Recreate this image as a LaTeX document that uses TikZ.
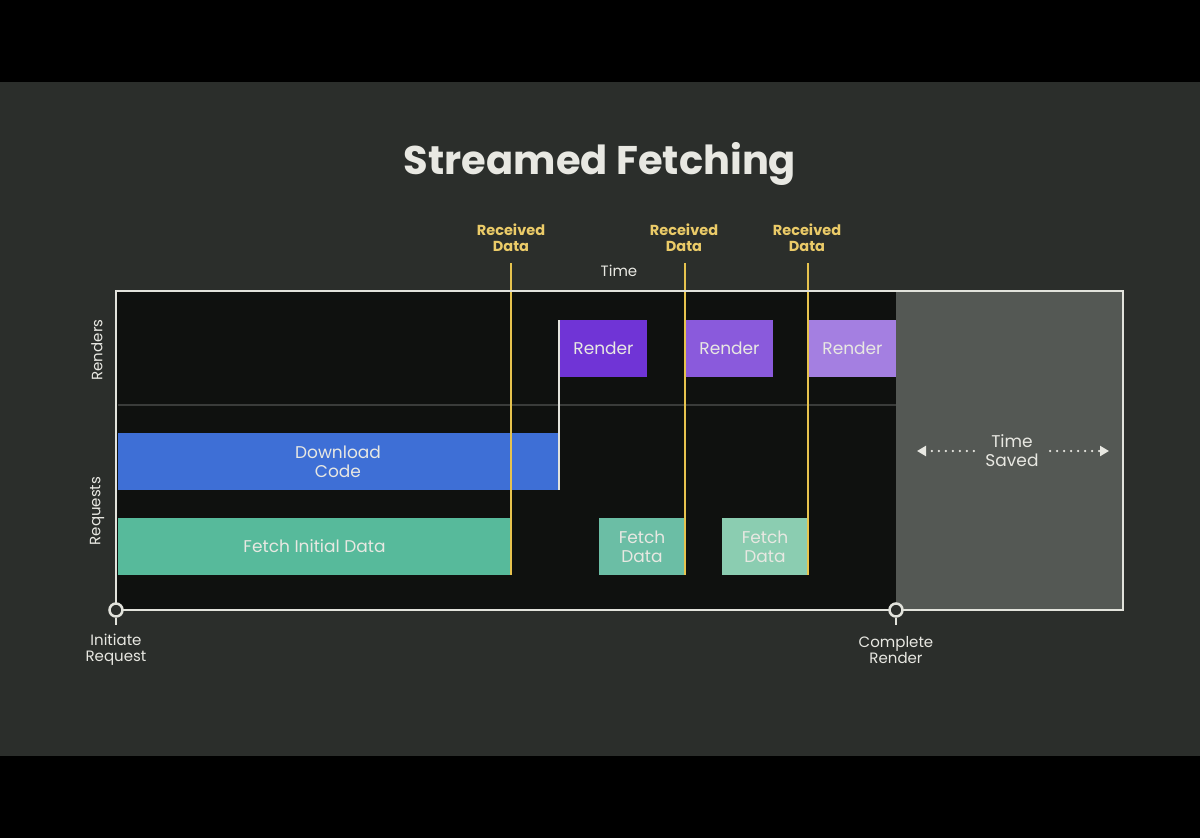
\documentclass[tikz,border=0pt]{standalone}
\usepackage{fontspec}
\setmainfont{Poppins}
\usetikzlibrary{arrows.meta}
\definecolor{bgc}{HTML}{2B2E2B}
\definecolor{plotc}{HTML}{0F110F}
\definecolor{savedc}{HTML}{545854}
\definecolor{framec}{HTML}{E2E3DC}
\definecolor{divc}{HTML}{3A3C3A}
\definecolor{yel}{HTML}{E6C34E}
\definecolor{ytext}{HTML}{EBCB68}
\definecolor{txt}{HTML}{E8E8E2}
\definecolor{blu}{HTML}{3E6FD6}
\definecolor{rendA}{HTML}{7034D6}
\definecolor{rendB}{HTML}{8A5ADC}
\definecolor{rendC}{HTML}{A47FE1}
\definecolor{fetA}{HTML}{57BA9B}
\definecolor{fetB}{HTML}{6BBEA5}
\definecolor{fetC}{HTML}{8BCDB1}
\tikzset{
  barbox/.style={anchor=north west, inner sep=0pt, outer sep=0pt, minimum height=57pt, align=center, text=txt, font=\fontsize{17}{19}\selectfont},
  ylabel/.style={text=ytext, align=center, font=\bfseries\fontsize{14.5}{16}\selectfont},
  axlabel/.style={text=txt, align=center, font=\fontsize{15}{16}\selectfont},
  yline/.style={draw=yel, line width=2.2pt},
  milestone/.style={circle, draw=framec, fill=bgc, line width=2.5pt, minimum size=13pt, inner sep=0pt},
  savedarrow/.style={txt, line width=2.5pt, line cap=round, dash pattern=on 0pt off 7pt, -{Triangle[length=9pt,width=10pt]}},
}
\begin{document}
\begin{tikzpicture}[x=1pt,y=-1pt]
\fill[black] (0,0) rectangle (1200,838);
\fill[bgc] (0,82) rectangle (1200,756);
\useasboundingbox (0,0) rectangle (1200,838);
% title
\node[text=txt, font=\bfseries\fontsize{40}{44}\selectfont] (title) at (600,164) {Streamed Fetching};
% plot areas
\fill[plotc] (116,291) rectangle (896,610);
\fill[savedc] (896,291) rectangle (1123,610);
\draw[divc, line width=2pt] (118,405) -- (896,405);
% bars
\node[barbox, fill=blu, minimum width=440pt] (dl) at (118,433) {Download\\Code};
\node[barbox, fill=fetA, minimum width=393pt] (fid) at (118,518) {Fetch Initial Data};
\node[barbox, fill=fetB, minimum width=86pt] (fd1) at (599,518) {Fetch\\Data};
\node[barbox, fill=fetC, minimum width=86pt] (fd2) at (722,518) {Fetch\\Data};
\node[barbox, fill=rendA, minimum width=87pt] (rd1) at (560,320) {Render};
\node[barbox, fill=rendB, minimum width=87pt] (rd2) at (686,320) {Render};
\node[barbox, fill=rendC, minimum width=87pt] (rd3) at (809,320) {Render};
% white start line for first render
\draw[framec, line width=2pt] ([xshift=-1pt]rd1.north west) -- ([xshift=1pt]dl.south east);
% received data lines
\coordinate (y1) at (511,263);
\coordinate (y2) at (685,263);
\coordinate (y3) at (808,263);
\draw[yline] (y1) -- (fid.south east);
\draw[yline] (y2) -- (fd1.south east);
\draw[yline] (y3) -- (fd2.south east);
\node[ylabel] (rl1) at (511,238) {Received\\Data};
\node[ylabel] (rl2) at (684,238) {Received\\Data};
\node[ylabel] (rl3) at (807,238) {Received\\Data};
\node[axlabel] (time) at (619,271) {Time};
% frame
\draw[framec, line width=2.5pt] (116,291) rectangle (1123,610);
% axis labels
\node[axlabel, rotate=90] (renders) at (97,350) {Renders};
\node[axlabel, rotate=90] (requests) at (97,511) {Requests};
% milestones
\node[milestone] (ini) at (116,610) {};
\node[milestone] (cmp) at (896,610) {};
\coordinate (initick) at (116,625);
\coordinate (cmptick) at (896,625);
\draw[framec, line width=2.5pt] (ini.south) -- (initick);
\draw[framec, line width=2.5pt] (cmp.south) -- (cmptick);
\node[axlabel] (inil) at (116,650) {Initiate\\Request};
\node[axlabel] (cmpl) at (896,650) {Complete\\Render};
% time saved
\node[text=txt, align=center, font=\fontsize{17}{19}\selectfont] (ts) at (1012,451) {Time\\Saved};
\coordinate (tsl) at (917,451);
\coordinate (tsr) at (1109,451);
\draw[savedarrow] ([xshift=-8pt]ts.west) -- (tsl);
\draw[savedarrow] ([xshift=8pt]ts.east) -- (tsr);
\end{tikzpicture}
\end{document}
